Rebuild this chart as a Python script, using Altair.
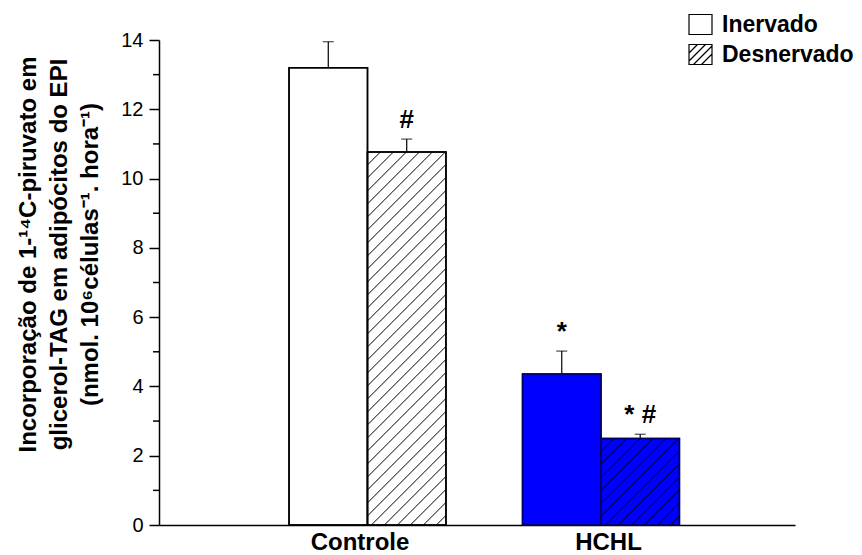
import altair as alt
import pandas as pd

# ---------------- data ----------------
grupos = ["Controle", "HCHL"]
tratamentos = ["Inervado", "Desnervado"]
medias_inervado = [13.20, 4.36]
medias_desnervado = [10.77, 2.50]
erros_inervado = [0.75, 0.66]
erros_desnervado = [0.37, 0.12]
anot_inervado = ["", "*"]
anot_desnervado = ["#", "* #"]
cores_grupo = ["#FFFFFF", "#0000FF"]
bordas_grupo = ["#000000", "#000066"]
y_ticks = [0, 2, 4, 6, 8, 10, 12, 14]
y_minor = [1, 3, 5, 7, 9, 11, 13]
titulo_y = [
    "Incorporação de 1-\u00b9\u2074C-piruvato em",
    "glicerol-TAG em adipócitos do EPI",
    "(nmol. 10\u2076células\u207b\u00b9. hora\u207b\u00b9)",
]

# ---------------- layout constants ----------------
W, H = 636, 485
X_DOM = [0.107, 2.831]
Y_DOM = [0, 14]
BAR_W = 0.336
HATCH_STEP = 13  # px between hatch lines (horizontal)
FONT = "Liberation Sans"

ppx = W / (X_DOM[1] - X_DOM[0])
ppy = H / (Y_DOM[1] - Y_DOM[0])

rows = []
for gi, g in enumerate(grupos):
    pos = gi + 1
    for ti, t in enumerate(tratamentos):
        val = [medias_inervado, medias_desnervado][ti][gi]
        err = [erros_inervado, erros_desnervado][ti][gi]
        anot = [anot_inervado, anot_desnervado][ti][gi]
        x0 = pos + (ti - 1) * BAR_W
        rows.append(dict(grupo=g, tratamento=t, x0=x0, x1=x0 + BAR_W,
                         xc=x0 + BAR_W / 2, valor=val, meio=val / 2, topo=val + err,
                         base=0.0, anot=anot))
bars = pd.DataFrame(rows)

# hatch segments for "Desnervado" bars
hrows = []
for r in rows:
    if r["tratamento"] != "Desnervado":
        continue
    Wp = BAR_W * ppx
    Hp = r["valor"] * ppy
    c = -Hp
    while c < Wp:
        xs = max(0.0, c)
        xe = min(Wp, c + Hp)
        if xe - xs > 0.5:
            hrows.append(dict(hx0=r["x0"] + xs / ppx, hy0=(xs - c) / ppy,
                              hx1=r["x0"] + xe / ppx, hy1=(xe - c) / ppy))
        c += HATCH_STEP
hatch = pd.DataFrame(hrows)
minor = pd.DataFrame({"v": y_minor})

# legend symbol paths (custom SVG, box + diagonal hatch)
bx, by = 1.15, 1.0
path_box = f"M{-bx},{-by}H{bx}V{by}H{-bx}Z"
segs = []
for c in [-1.3, -0.5, 0.3, 1.1]:
    pts = []
    cand = [(-bx, c + bx), (bx, c - bx), (c - by, by), (c + by, -by)]
    for (px, py) in cand:
        if -bx - 1e-9 <= px <= bx + 1e-9 and -by - 1e-9 <= py <= by + 1e-9:
            pts.append((round(px, 3), round(py, 3)))
    pts = sorted(set(pts))
    if len(pts) >= 2:
        (ax, ay), (bx2, by2) = pts[0], pts[-1]
        segs.append(f"M{ax},{ay}L{bx2},{by2}")
path_hatch = path_box + "".join(segs)

xscale = alt.Scale(domain=X_DOM, nice=False, zero=False)
yscale = alt.Scale(domain=Y_DOM, nice=False)

label_expr = "[" + ",".join(f"'{g}'" for g in grupos) + "][datum.value - 1]"

x_axis = alt.Axis(values=[1, 2], labelExpr=label_expr, title=None,
                  ticks=False, tickSize=0, grid=False,
                  labelFont=FONT, labelFontSize=24, labelFontWeight="bold",
                  labelColor="black", labelPadding=5,
                  labelOffset={"condition": {"test": "datum.value < 1.5", "value": -8}, "value": 7},
                  domainColor="black", domainWidth=1.5)
y_axis = alt.Axis(values=y_ticks, title=titulo_y, grid=False,
                  titleFont=FONT, titleFontSize=24, titleFontWeight="bold",
                  titleColor="black", titleAngle=270, titleX=-124, titleY=214,
                  titleAlign="center", titleBaseline="alphabetic", titleLineHeight=31,
                  labelFont=FONT, labelFontSize=20, labelColor="black", labelPadding=6,
                  tickSize=10, tickWidth=1.5, tickColor="black",
                  domainColor="black", domainWidth=1.5)

base = alt.Chart(bars)

# legend carrier: points hidden underneath the bars (drawn first)
legend_pts = base.mark_point(filled=False, color="black", strokeWidth=1.2,
                             size=300, opacity=1).encode(
    x=alt.X("xc:Q", scale=xscale, axis=x_axis),
    y=alt.Y("meio:Q", scale=yscale, axis=y_axis),
    shape=alt.Shape("tratamento:N",
                    scale=alt.Scale(domain=tratamentos, range=[path_box, path_hatch]),
                    legend=alt.Legend(title=None, orient="none", legendX=530, legendY=-27,
                                      symbolSize=400, symbolOpacity=1,
                                      symbolStrokeColor="black",
                                      symbolStrokeWidth=1.2,
                                      labelFont=FONT, labelFontSize=23,
                                      labelFontWeight="bold", labelColor="black",
                                      labelOffset=10, rowPadding=5, padding=0,
                                      labelLimit=0)),
)

rect = base.mark_rect(strokeWidth=1.5).encode(
    x=alt.X("x0:Q", scale=xscale, axis=x_axis),
    x2="x1:Q",
    y=alt.Y("valor:Q", scale=yscale, axis=y_axis),
    y2="base:Q",
    fill=alt.Fill("grupo:N", scale=alt.Scale(domain=grupos, range=cores_grupo), legend=None),
    stroke=alt.Stroke("grupo:N", scale=alt.Scale(domain=grupos, range=bordas_grupo), legend=None),
)

hatch_layer = alt.Chart(hatch).mark_rule(color="black", strokeWidth=1).encode(
    x="hx0:Q", x2="hx1:Q", y="hy0:Q", y2="hy1:Q")

rect_outline = base.mark_rect(fillOpacity=0, strokeWidth=1.5).encode(
    x="x0:Q", x2="x1:Q", y="valor:Q", y2="base:Q",
    stroke=alt.Stroke("grupo:N", scale=alt.Scale(domain=grupos, range=bordas_grupo), legend=None),
)

err_line = base.mark_rule(color="black", strokeWidth=1.2).encode(
    x="xc:Q", y="valor:Q", y2="topo:Q")
err_cap = base.mark_tick(color="black", orient="horizontal", size=11, thickness=1.2).encode(
    x="xc:Q", y="topo:Q")

annot = base.mark_text(font=FONT, fontSize=26, fontWeight="bold", color="black",
                       baseline="middle", align="center", dy=-19).encode(
    x="xc:Q", y="topo:Q", text="anot:N")

minor_ticks = alt.Chart(minor).mark_rule(color="black", strokeWidth=1.5).encode(
    y="v:Q", x=alt.datum(X_DOM[0]), x2=alt.value(-6))

chart = alt.layer(legend_pts, rect, hatch_layer, rect_outline, err_line, err_cap, annot,
                  minor_ticks).properties(
    width=W, height=H,
    padding={"left": 151, "top": 32, "right": 59, "bottom": 30},
    autosize=alt.AutoSizeParams(type="none"),
    background="white",
).configure_view(stroke=None)

chart.save("out.html", embed_options={"renderer": "svg", "actions": False})
